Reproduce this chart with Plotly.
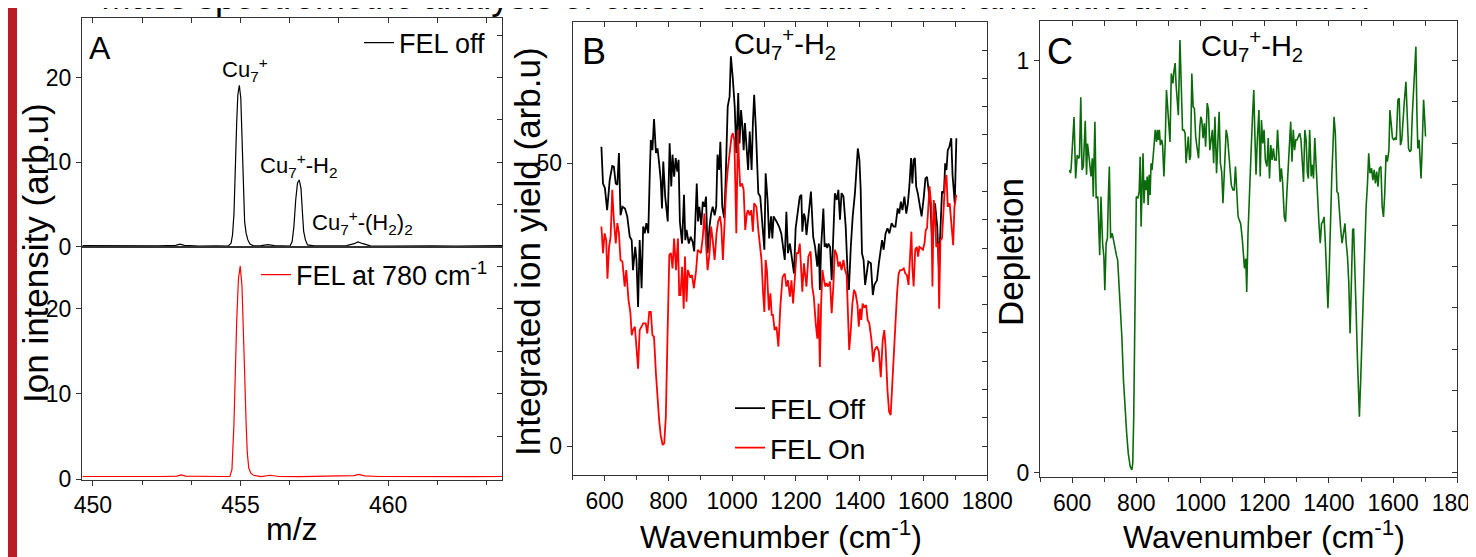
import plotly.graph_objects as go

# ---------------- Panel A: mass spectra ----------------
mz_off = [449.65, 450.2, 450.8, 451.5, 452.2, 452.8, 452.95, 453.1, 453.6, 454.2, 454.59,
          454.68, 454.73, 454.78, 454.82, 454.87, 454.91, 454.96, 455.01, 455.05, 455.10,
          455.14, 455.19, 455.25, 455.32, 455.44, 455.7, 455.93, 456.15, 456.5, 456.68,
          456.75, 456.81, 456.87, 456.93, 456.99, 457.05, 457.10, 457.14, 457.20, 457.27,
          457.5, 458.0, 458.6, 458.85, 458.98, 459.15, 459.4, 460.0, 460.8, 461.5, 462.3,
          463.0, 463.86]
ion_off = [0.12, 0.10, 0.12, 0.08, 0.10, 0.15, 0.30, 0.15, 0.08, 0.10, 0.08,
           0.4, 1.4, 3.95, 9.5, 14.6, 17.95, 19.1, 17.6, 12.6, 6.7,
           2.96, 1.6, 0.8, 0.3, 0.1, 0.12, 0.25, 0.12, 0.10, 0.08,
           0.6, 2.4, 5.5, 7.5, 7.9, 6.9, 3.95, 1.8, 0.8, 0.2,
           0.10, 0.08, 0.12, 0.35, 0.55, 0.35, 0.10, 0.08, 0.12, 0.10, 0.08,
           0.10, 0.12]

mz_on = [449.65, 450.3, 451.0, 451.7, 452.4, 452.85, 452.98, 453.15, 453.8, 454.3, 454.64,
         454.71, 454.78, 454.82, 454.87, 454.93, 454.99, 455.05, 455.10, 455.14, 455.19,
         455.23, 455.28, 455.35, 455.44, 455.7, 456.0, 456.3, 457.0, 457.6, 458.3, 458.85,
         459.0, 459.2, 459.7, 460.5, 461.3, 462.1, 462.9, 463.86]
ion_on = [0.30, 0.28, 0.32, 0.27, 0.30, 0.35, 0.50, 0.35, 0.28, 0.30, 0.30,
          1.1, 6.6, 12.5, 18.4, 23.5, 25.0, 22.7, 18.0, 12.5, 6.6,
          3.1, 1.3, 0.7, 0.45, 0.30, 0.45, 0.30, 0.28, 0.32, 0.30, 0.40,
          0.55, 0.38, 0.30, 0.28, 0.32, 0.30, 0.28, 0.30]

# ---------------- Panel B: integrated ion yield ----------------
wn_off = [590, 595, 601, 608, 616, 624, 629, 635, 640, 645, 650, 656, 664, 671, 679, 685,
          689, 696, 700, 705, 710, 716, 721, 726, 731, 737, 742, 745, 750, 755, 761, 766,
          771, 776, 780, 784, 790, 798, 804, 809, 813, 818, 823, 828, 832, 836, 843, 849,
          853, 857, 864, 870, 876, 881, 889, 893, 897, 903, 908, 913, 918, 923, 929, 934,
          939, 945, 950, 954, 959, 963, 969, 975, 979, 986, 992, 996, 1002, 1008, 1013,
          1019, 1023, 1028, 1032, 1036, 1040, 1044, 1050, 1055, 1061, 1065, 1069, 1074,
          1078, 1082, 1088, 1092, 1097, 1101, 1105, 1111, 1116, 1122, 1126, 1130, 1139,
          1147, 1154, 1165, 1170, 1175, 1181, 1187, 1194, 1199, 1207, 1212, 1217, 1220,
          1225, 1229, 1233, 1240, 1247, 1254, 1260, 1267, 1272, 1275, 1279, 1286, 1290,
          1294, 1298, 1302, 1307, 1312, 1317, 1322, 1328, 1333, 1338, 1343, 1349, 1356,
          1362, 1366, 1372, 1378, 1385, 1391, 1394, 1399, 1403, 1407, 1412, 1417, 1422,
          1427, 1435, 1441, 1446, 1454, 1460, 1466, 1470, 1475, 1481, 1487, 1493, 1500,
          1506, 1512, 1519, 1524, 1529, 1534, 1540, 1546, 1551, 1556, 1561, 1565, 1569,
          1573, 1577, 1582, 1588, 1594, 1601, 1606, 1611, 1615, 1622, 1627, 1632, 1636,
          1643, 1648, 1653, 1658, 1664, 1668, 1672, 1676, 1681, 1687, 1691, 1695, 1698,
          1703]
yield_off = [52.9, 46.4, 45.6, 41.7, 47.0, 49.5, 49.4, 46.4, 46.2, 51.8, 40.8, 42.3, 42.0,
             40.6, 37.0, 36.4, 31.1, 35.2, 32.9, 24.6, 36.4, 27.9, 38.8, 37.6, 39.4, 37.6,
             48.8, 54.1, 52.3, 57.8, 51.8, 52.6, 50.0, 47.0, 42.0, 50.3, 44.1, 39.7, 53.5,
             45.9, 51.5, 47.6, 50.9, 48.5, 50.6, 39.7, 35.8, 44.4, 36.4, 38.2, 35.8, 37.0,
             36.1, 34.4, 46.4, 39.7, 42.3, 39.1, 43.2, 42.3, 44.1, 34.1, 38.8, 41.1, 42.3,
             40.8, 42.3, 51.5, 48.8, 53.8, 42.3, 40.3, 45.9, 60.0, 61.8, 68.9, 65.0, 60.0,
             51.8, 62.4, 53.5, 59.4, 56.5, 52.3, 57.1, 54.1, 48.8, 55.6, 48.8, 57.1, 62.1,
             56.5, 48.2, 44.7, 44.1, 41.1, 38.2, 34.7, 48.2, 43.5, 36.7, 40.6, 36.7, 40.6,
             39.7, 38.8, 37.6, 32.9, 41.4, 34.1, 35.8, 33.5, 30.5, 38.5, 42.0, 44.1, 44.4,
             37.9, 41.1, 40.3, 37.3, 41.1, 45.0, 37.0, 35.2, 31.7, 35.8, 27.6, 35.2, 42.0,
             35.2, 35.8, 35.0, 35.8, 35.2, 29.3, 36.4, 44.7, 43.5, 45.3, 40.0, 44.7, 44.1,
             38.8, 30.5, 27.6, 35.2, 40.6, 44.7, 50.6, 52.6, 50.6, 45.3, 34.1, 32.9, 28.5,
             31.1, 32.6, 32.3, 26.7, 28.5, 29.3, 32.3, 35.2, 36.4, 34.7, 37.6, 38.5, 37.6,
             39.4, 38.8, 38.8, 42.0, 41.1, 43.2, 41.7, 44.1, 41.1, 42.9, 46.2, 50.9, 46.4,
             50.6, 50.9, 45.9, 44.7, 42.9, 40.6, 44.1, 47.3, 47.6, 45.9, 42.3, 36.4, 41.1,
             42.9, 38.8, 31.7, 38.2, 45.0, 44.7, 50.0, 48.8, 52.3, 52.9, 54.4, 47.9, 44.1,
             42.9, 54.4]

wn_on = [590, 595, 600, 605, 609, 614, 619, 624, 629, 635, 640, 645, 650, 656, 663, 668,
         675, 681, 685, 689, 695, 700, 705, 710, 716, 721, 729, 734, 740, 745, 750, 755,
         761, 766, 771, 776, 782, 787, 792, 797, 803, 808, 813, 818, 824, 830, 834, 838,
         843, 848, 852, 857, 861, 868, 874, 880, 887, 892, 897, 902, 908, 913, 918, 923,
         929, 934, 939, 945, 951, 956, 962, 966, 971, 977, 981, 986, 992, 998, 1002, 1007,
         1013, 1018, 1022, 1025, 1031, 1036, 1041, 1046, 1050, 1055, 1060, 1065, 1069,
         1076, 1082, 1088, 1092, 1097, 1101, 1105, 1109, 1115, 1120, 1124, 1128, 1133,
         1139, 1145, 1151, 1158, 1165, 1170, 1175, 1181, 1186, 1191, 1196, 1202, 1207,
         1212, 1217, 1220, 1225, 1229, 1233, 1239, 1246, 1251, 1256, 1262, 1267, 1271,
         1275, 1279, 1283, 1288, 1292, 1296, 1301, 1307, 1312, 1317, 1322, 1328, 1333,
         1338, 1343, 1349, 1354, 1359, 1363, 1367, 1372, 1377, 1382, 1387, 1393, 1397,
         1401, 1405, 1409, 1414, 1420, 1425, 1430, 1437, 1442, 1447, 1454, 1460, 1466,
         1472, 1477, 1481, 1487, 1492, 1497, 1501, 1506, 1511, 1517, 1522, 1527, 1532,
         1538, 1543, 1548, 1553, 1559, 1562, 1565, 1569, 1574, 1579, 1583, 1587, 1592,
         1598, 1603, 1607, 1611, 1615, 1619, 1624, 1628, 1632, 1636, 1640, 1646, 1649,
         1653, 1658, 1664, 1668, 1672, 1676, 1682, 1689, 1693, 1697, 1701, 1703]
yield_on = [38.8, 34.1, 37.6, 36.4, 29.6, 35.2, 37.0, 45.3, 40.0, 35.8, 39.4, 37.6, 32.9,
            32.6, 28.2, 31.1, 25.8, 23.5, 19.6, 20.5, 21.1, 16.4, 13.7, 20.5, 21.1, 21.7,
            21.7, 19.9, 23.7, 23.7, 19.6, 19.3, 12.8, 8.1, 4.6, 1.9, 0.2, 0.5, 5.2, 18.7,
            33.8, 34.1, 31.4, 36.7, 31.1, 36.7, 26.7, 26.7, 31.7, 24.3, 33.5, 25.5, 31.1,
            29.9, 30.2, 27.9, 31.1, 34.7, 34.4, 34.1, 37.0, 41.1, 35.8, 31.1, 34.1, 38.8,
            36.4, 32.9, 37.6, 39.7, 40.6, 38.8, 32.9, 41.1, 45.3, 48.8, 51.8, 54.7, 55.3,
            54.1, 37.6, 55.9, 49.4, 45.9, 46.4, 45.3, 38.2, 41.1, 41.7, 40.8, 41.7, 37.9,
            42.9, 42.3, 38.2, 34.7, 32.9, 27.0, 23.7, 32.9, 31.1, 24.0, 27.0, 23.2, 23.2,
            20.5, 21.1, 17.6, 24.6, 29.9, 30.5, 28.2, 29.3, 26.4, 29.3, 25.2, 28.8, 34.1,
            34.1, 35.8, 30.5, 27.3, 32.3, 30.5, 28.2, 33.5, 34.4, 28.2, 26.4, 21.7, 19.0,
            25.2, 14.0, 25.2, 31.1, 29.3, 28.2, 28.8, 28.2, 29.1, 23.5, 27.9, 34.7, 33.8,
            31.7, 32.6, 31.1, 32.9, 31.1, 30.2, 24.6, 17.0, 20.5, 25.2, 27.6, 27.0, 24.9,
            21.1, 24.3, 22.3, 25.2, 24.6, 24.9, 22.3, 21.7, 18.7, 14.9, 17.0, 17.6, 16.7,
            12.2, 18.7, 20.5, 17.6, 9.9, 6.1, 5.5, 9.9, 17.0, 22.9, 27.0, 30.5, 31.1, 31.1,
            31.4, 30.5, 30.2, 28.5, 34.1, 37.9, 31.7, 28.2, 34.7, 35.2, 33.5, 35.2, 35.0,
            34.7, 35.8, 38.2, 38.5, 42.3, 45.9, 42.6, 28.2, 43.5, 40.6, 35.2, 35.8, 24.3,
            36.4, 36.7, 44.1, 47.0, 47.9, 42.3, 42.9, 38.8, 35.5, 42.3, 44.1, 44.4]

# ---------------- Panel C: depletion ----------------
wn_dep = [592, 595, 597, 601, 606, 611, 616, 620, 623, 627, 631, 635, 641, 645, 648, 651,
          655, 659, 663, 666, 671, 675, 680, 683, 686, 690, 695, 699, 702, 706, 710, 713,
          716, 720, 725, 728, 732, 738, 742, 746, 751, 755, 760, 765, 770, 775, 781, 786,
          789, 792, 796, 800, 805, 809, 812, 815, 818, 821, 824, 827, 831, 834, 837, 840,
          843, 846, 849, 852, 855, 859, 863, 866, 869, 872, 875, 879, 882, 886, 890, 894,
          898, 902, 905, 909, 914, 917, 921, 924, 927, 931, 936, 940, 944, 948, 952, 955,
          959, 962, 966, 969, 973, 977, 981, 985, 989, 994, 998, 1001, 1004, 1008, 1012,
          1016, 1021, 1025, 1029, 1033, 1037, 1041, 1045, 1050, 1054, 1058, 1062, 1066,
          1070, 1075, 1080, 1084, 1088, 1092, 1096, 1101, 1105, 1109, 1113, 1117, 1121,
          1125, 1130, 1134, 1137, 1141, 1144, 1148, 1153, 1157, 1162, 1166, 1169, 1173,
          1177, 1182, 1186, 1190, 1194, 1198, 1202, 1207, 1211, 1215, 1219, 1223, 1227,
          1231, 1236, 1240, 1244, 1248, 1252, 1256, 1261, 1265, 1269, 1273, 1277, 1281,
          1285, 1289, 1293, 1297, 1301, 1305, 1309, 1313, 1318, 1321, 1325, 1329, 1333,
          1336, 1340, 1345, 1349, 1352, 1356, 1360, 1364, 1369, 1373, 1377, 1381, 1385,
          1389, 1393, 1397, 1401, 1405, 1409, 1413, 1416, 1420, 1425, 1429, 1433, 1437,
          1441, 1445, 1450, 1454, 1458, 1462, 1466, 1470, 1474, 1477, 1481, 1485, 1489,
          1492, 1495, 1499, 1504, 1508, 1512, 1516, 1520, 1524, 1528, 1533, 1537, 1541,
          1545, 1549, 1553, 1557, 1562, 1566, 1570, 1574, 1578, 1582, 1587, 1590, 1594,
          1598, 1602, 1606, 1610, 1615, 1619, 1623, 1627, 1631, 1635, 1640, 1644, 1648,
          1652, 1656, 1660, 1664, 1668, 1671, 1674, 1677, 1681, 1684, 1687, 1690, 1695,
          1698, 1701]
depletion = [0.735, 0.727, 0.739, 0.783, 0.863, 0.714, 0.771, 0.763, 0.767, 0.911, 0.735,
             0.743, 0.854, 0.723, 0.799, 0.779, 0.751, 0.719, 0.763, 0.670, 0.852, 0.666,
             0.670, 0.597, 0.528, 0.670, 0.557, 0.524, 0.443, 0.557, 0.569, 0.670, 0.743,
             0.569, 0.581, 0.569, 0.549, 0.528, 0.516, 0.460, 0.403, 0.330, 0.225, 0.144,
             0.096, 0.047, 0.015, 0.007, 0.023, 0.136, 0.427, 0.670, 0.666, 0.682, 0.767,
             0.597, 0.694, 0.775, 0.654, 0.710, 0.686, 0.719, 0.650, 0.723, 0.674, 0.751,
             0.735, 0.779, 0.791, 0.832, 0.803, 0.832, 0.808, 0.832, 0.795, 0.808, 0.795,
             0.719, 0.799, 0.929, 0.872, 0.840, 0.803, 0.969, 0.945, 0.973, 0.994, 0.941,
             0.905, 0.868, 1.050, 0.953, 0.832, 0.832, 0.824, 0.751, 0.783, 0.816, 0.759,
             0.767, 0.969, 0.888, 0.884, 0.816, 0.791, 0.763, 0.840, 0.864, 0.856, 0.812,
             0.848, 0.791, 0.897, 0.880, 0.783, 0.808, 0.832, 0.751, 0.864, 0.727, 0.791,
             0.876, 0.751, 0.731, 0.654, 0.767, 0.832, 0.816, 0.783, 0.735, 0.698, 0.686,
             0.686, 0.743, 0.670, 0.622, 0.613, 0.605, 0.569, 0.524, 0.496, 0.520, 0.439,
             0.581, 0.710, 0.767, 0.864, 0.929, 0.832, 0.723, 0.808, 0.880, 0.719, 0.856,
             0.799, 0.832, 0.759, 0.743, 0.812, 0.714, 0.795, 0.759, 0.787, 0.759, 0.759,
             0.832, 0.775, 0.706, 0.739, 0.702, 0.621, 0.609, 0.678, 0.735, 0.799, 0.852,
             0.755, 0.832, 0.783, 0.808, 0.808, 0.816, 0.824, 0.808, 0.755, 0.706, 0.832,
             0.808, 0.727, 0.714, 0.832, 0.719, 0.747, 0.714, 0.812, 0.735, 0.674, 0.605,
             0.557, 0.605, 0.609, 0.621, 0.557, 0.472, 0.399, 0.492, 0.621, 0.719, 0.799,
             0.864, 0.824, 0.682, 0.678, 0.621, 0.589, 0.557, 0.581, 0.605, 0.557, 0.524,
             0.460, 0.338, 0.460, 0.589, 0.593, 0.508, 0.387, 0.274, 0.185, 0.136, 0.225,
             0.346, 0.468, 0.597, 0.646, 0.698, 0.775, 0.727, 0.739, 0.710, 0.735, 0.702,
             0.731, 0.694, 0.739, 0.743, 0.646, 0.621, 0.678, 0.771, 0.755, 0.783, 0.880,
             0.848, 0.812, 0.808, 0.812, 0.808, 0.905, 0.909, 0.795, 0.808, 0.864, 0.901,
             0.949, 0.872, 0.787, 0.779, 0.783, 0.872, 0.929, 0.994, 1.034, 0.880, 0.787,
             0.808, 0.747, 0.714, 0.775, 0.905, 0.864, 0.816]

FONT = "Liberation Sans, Arial, sans-serif"
# page body has an 8 px margin: figure is sized to fill the rest of the window
PAD = 8
W, H = 1476 - PAD, 557 - PAD


def px_x(p):
    """window pixel x -> paper fraction"""
    return (p - PAD) / W


def px_y(p):
    """window pixel y -> paper fraction"""
    return 1 - (p - PAD) / H


fig = go.Figure()

# Panel A traces
fig.add_trace(go.Scatter(x=mz_off, y=ion_off, mode="lines", name="FEL off",
                         line=dict(color="#000000", width=1.2), xaxis="x", yaxis="y",
                         legend="legend"))
fig.add_trace(go.Scatter(x=mz_on, y=ion_on, mode="lines", name="FEL at 780 cm<sup>-1</sup>",
                         line=dict(color="#ff0000", width=1.2), xaxis="x2", yaxis="y2",
                         legend="legend2"))
# Panel B traces
fig.add_trace(go.Scatter(x=wn_off, y=yield_off, mode="lines", name="FEL Off",
                         line=dict(color="#000000", width=1.8), xaxis="x3", yaxis="y3",
                         legend="legend3"))
fig.add_trace(go.Scatter(x=wn_on, y=yield_on, mode="lines", name="FEL On",
                         line=dict(color="#ff0000", width=1.8), xaxis="x3", yaxis="y3",
                         legend="legend3"))
# Panel C trace
fig.add_trace(go.Scatter(x=wn_dep, y=depletion, mode="lines", name="Depletion",
                         line=dict(color="#0b6b0b", width=1.6), xaxis="x4", yaxis="y4",
                         showlegend=False))

# empty helper traces so the mirrored-tick axes get drawn
for xa, ya in [("x5", "y"), ("x", "y5"), ("x2", "y6"), ("x6", "y3"), ("x3", "y7"),
               ("x7", "y4"), ("x4", "y8")]:
    fig.add_trace(go.Scatter(x=[], y=[], xaxis=xa, yaxis=ya, showlegend=False,
                             hoverinfo="skip"))

AX = "#333333"
TF = dict(family=FONT, size=23, color="#000000")

dom_A = [px_x(82), px_x(502)]
dom_At = [px_y(247), px_y(18)]
dom_Ab = [px_y(479.5), px_y(247)]
dom_B = [px_x(572.7), px_x(987.3)]
dom_By = [px_y(475), px_y(21.7)]
dom_C = [px_x(1040), px_x(1457.3)]
dom_Cy = [px_y(477.3), px_y(20.7)]

base = dict(showgrid=False, zeroline=False, showline=True, linecolor=AX, linewidth=1,
            mirror=True, tickfont=TF, tickcolor=AX, ticklen=5, tickwidth=1,
            automargin=False, ticklabeloverflow="allow")
inner = dict(showgrid=False, zeroline=False, showline=False, showticklabels=False,
             ticks="inside", ticklen=5, tickcolor=AX, tickwidth=1, automargin=False)
MINOR = dict(ticks="outside", ticklen=4, tickcolor=AX)

rngA = [449.63, 463.86]
fig.update_layout(
    xaxis=dict(base, domain=dom_A, range=rngA, anchor="y", ticks="", showticklabels=False),
    yaxis=dict(base, domain=dom_At, range=[-0.04, 27.06], anchor="x", ticks="outside",
               dtick=10, tick0=0),
    xaxis2=dict(base, domain=dom_A, range=rngA, anchor="y2", ticks="outside", dtick=5,
                tick0=450, minor=dict(MINOR, dtick=5 / 3, tick0=450)),
    yaxis2=dict(base, domain=dom_Ab, range=[-0.05, 27.25], anchor="x2", ticks="outside",
                dtick=10, tick0=0),
    xaxis3=dict(base, domain=dom_B, range=[500, 1800], anchor="y3", ticks="outside",
                dtick=200, tick0=600, minor=dict(MINOR, dtick=100)),
    yaxis3=dict(base, domain=dom_By, range=[-5.1, 75.0], anchor="x3", ticks="outside",
                dtick=50, tick0=0),
    xaxis4=dict(base, domain=dom_C, range=[500, 1800], anchor="y4", ticks="outside",
                dtick=200, tick0=600, minor=dict(MINOR, dtick=100)),
    yaxis4=dict(base, domain=dom_Cy, range=[-0.011, 1.097], anchor="x4", ticks="outside",
                dtick=1, tick0=0),
    # mirrored inward ticks on top / right sides
    xaxis5=dict(inner, overlaying="x", matches="x", side="top", anchor="y", dtick=5 / 3,
                tick0=450),
    yaxis5=dict(inner, overlaying="y", matches="y", side="right", anchor="x", dtick=5,
                tick0=0),
    yaxis6=dict(inner, overlaying="y2", matches="y2", side="right", anchor="x2", dtick=5,
                tick0=0),
    xaxis6=dict(inner, overlaying="x3", matches="x3", side="top", anchor="y3", dtick=100,
                tick0=500),
    yaxis7=dict(inner, overlaying="y3", matches="y3", side="right", anchor="x3", dtick=5,
                tick0=0),
    xaxis7=dict(inner, overlaying="x4", matches="x4", side="top", anchor="y4", dtick=100,
                tick0=500),
    yaxis8=dict(inner, overlaying="y4", matches="y4", side="right", anchor="x4", dtick=0.1,
                tick0=0),
)

leg = dict(bgcolor="rgba(0,0,0,0)", borderwidth=0, tracegroupgap=0)
fig.update_layout(
    legend=dict(leg, x=px_x(359), y=px_y(43), xanchor="left", yanchor="middle",
                font=dict(family=FONT, size=27, color="#000")),
    legend2=dict(leg, x=px_x(256), y=px_y(275), xanchor="left", yanchor="middle",
                 font=dict(family=FONT, size=27, color="#000")),
    legend3=dict(leg, x=px_x(730), y=px_y(428), xanchor="left", yanchor="middle",
                 font=dict(family=FONT, size=28, color="#000")),
)

ann = []


def add_text(text, x, y, size, xanchor="center", yanchor="middle", angle=0):
    ann.append(dict(text=text, x=px_x(x), y=px_y(y), xref="paper", yref="paper",
                    showarrow=False, xanchor=xanchor, yanchor=yanchor, textangle=angle,
                    font=dict(family=FONT, size=size, color="#000")))


add_text("Mass spectrometric analysis of cluster distribution with and without IR excitation",
         735, -3, 36)
# axis titles
add_text("Ion intensity (arb.u)", 35, 253, 35, angle=-90)
add_text("m/z", 292, 529, 32)
add_text("Integrated ion yield (arb.u)", 527, 252, 35, angle=-90)
add_text("Wavenumber (cm<sup>-1</sup>)", 781, 535, 32)
add_text("Depletion", 1010, 252, 35, angle=-90)
add_text("Wavenumber (cm<sup>-1</sup>)", 1264, 535, 32)
# panel letters and species labels
add_text("A", 87, 48, 32, xanchor="left")
add_text("B", 580, 51, 36, xanchor="left")
add_text("C", 1045, 52, 36, xanchor="left")
add_text("Cu<sub>7</sub><sup>+</sup>-H<sub>2</sub>", 785, 44, 29)
add_text("Cu<sub>7</sub><sup>+</sup>-H<sub>2</sub>", 1252, 46, 29)
add_text("Cu<sub>7</sub><sup>+</sup>", 245, 70, 22)
add_text("Cu<sub>7</sub><sup>+</sup>-H<sub>2</sub>", 298, 165, 22)
add_text("Cu<sub>7</sub><sup>+</sup>-(H<sub>2</sub>)<sub>2</sub>", 362, 222, 22)

fig.update_layout(
    annotations=ann,
    shapes=[dict(type="rect", xref="paper", yref="paper", x0=px_x(8), x1=px_x(17),
                 y0=0, y1=px_y(0), fillcolor="#bb1c23", line=dict(width=0),
                 layer="above")],
    width=W, height=H, margin=dict(l=0, r=0, t=0, b=0, autoexpand=False),
    paper_bgcolor="#ffffff", plot_bgcolor="rgba(0,0,0,0)",
    font=dict(family=FONT, color="#000"),
)

fig.write_html("out.html")
